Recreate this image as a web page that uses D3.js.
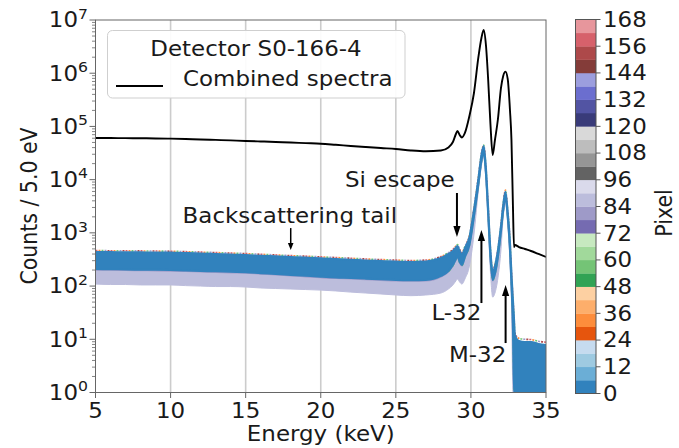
<!DOCTYPE html>
<html>
<head>
<meta charset="utf-8">
<script src="https://cdn.jsdelivr.net/npm/d3@7"></script>
<style>
  html, body { margin: 0; padding: 0; background: #fff; }
  svg { display: block; font-family: "DejaVu Sans", sans-serif; }
</style>
</head>
<body>
<svg id="chart" width="679" height="448"></svg>
<script>
// Energy grid (keV) shared by every series below
const energy = [5,6,7,8,9,10,11,12,13,14,15,16,17,18,19,20,21,22,23,24,25,26,27,28,
  28.5,28.8,29.0,29.1,29.25,29.4,29.6,29.9,30.2,30.5,30.7,30.85,31.0,31.15,31.3,31.45,
  31.6,31.8,32.0,32.15,32.3,32.45,32.6,32.7,32.8,32.87,32.93,33.2,33.6,34.0,34.5,35.0];

// Sum over all pixels (counts / 5 eV)
const combined = [60700,60500,60200,60000,59500,58900,57900,56900,55800,54600,53300,52200,51000,49900,48600,47400,45200,43000,41000,39200,37700,35300,34100,35300,
  40300,51000,72100,82200,69200,62000,75300,157000,420000,2020000,4590000,6500000,3390000,746000,111000,29100,
  55600,138000,525000,887000,1070000,780000,204000,55600,3060,542,591,542,497,456,401,352];

// Highest single-pixel spectrum (coloured fringe on top of the band)
const pixelMax = [465,462,460,458,455,452,444,435,427,417,408,396,385,374,365,354,344,334,323,315,308,302,308,358,
  425,485,565,605,488,428,555,890,2850,11300,30500,44500,17400,3080,505,196,
  254,505,1430,3550,6400,2650,750,190,58,27,13,10.4,10,9.9,9.2,8.8];

// Envelope of the dominant pixel group (pixels 0-5)
const groupHi = [437,435,433,430,428,426,418,409,401,392,384,372,362,352,343,332,323,314,303,296,290,284,290,337,
  401,456,531,567,456,401,520,836,2690,10700,29100,43000,16600,2930,476,184,
  238,476,1350,3340,5940,2470,700,176,55,25,12,9.3,8.9,8.9,8.2,7.8];
const groupLo = [209,207,205,203,202,200,196,192,189,185,182,175,169,162,156,150,145,142,138,134,130,129,130,155,
  192,249,323,367,284,249,352,592,1990,8280,22400,33100,12800,2170,337,130,
  169,352,1040,2580,4720,1990,476,105,15,0,0,0,0,0,0,0];

// Lowest single-pixel spectrum (pixels 84-89)
const pixelMin = [109,107,107,105,105,105,102,100,98,98,96,92,90,88,86,84,81,77,74,71,68,66,68,74,
  88,105,125,136,119,109,136,238,912,6390,18100,26700,9860,1600,184,62,
  74,142,476,1990,3640,1470,284,55,0,0,0,0,0,0,0,0];

// Axis ticks
const xTicks = [5,10,15,20,25,30,35];
const yDecades = [0,1,2,3,4,5,6,7];
const pixelTicks = [0,12,24,36,48,60,72,84,96,108,120,132,144,156,168];

// Pixel colour map: 28 bins of 6 pixels (tab20c followed by the last 8 of tab20b)
const pixelColors = ["#3182bd","#6baed6","#9ecae1","#c6dbef","#e6550d","#fd8d3c","#fdae6b","#fdd0a2",
  "#31a354","#74c476","#a1d99b","#c7e9c0","#756bb1","#9e9ac8","#bcbddc","#dadaeb",
  "#636363","#969696","#bdbdbd","#d9d9d9","#393b79","#5254a3","#6b6ecf","#9c9ede",
  "#843c39","#ad494a","#d6616b","#e7969c"];

// Annotations: arrow tail / tip in data coordinates, label anchor in data coordinates
const annotations = [
  {text: "Backscattering tail", tx: 10.8, ty: 1510, anchor: "start", e: 18.0, from: 1230, to: 476, head: "small"},
  {text: "Si escape", tx: 28.92, ty: 7280, anchor: "end", e: 29.07, from: 5610, to: 836, head: "big"},
  {text: "L-32", tx: 27.37, ty: 23, anchor: "start", e: 30.70, from: 48, to: 1130, head: "big"},
  {text: "M-32", tx: 28.54, ty: 3.8, anchor: "start", e: 32.31, from: 8.5, to: 105, head: "big"}
];

// ---- layout ----
const FS = 20.5;     // text size
const SX = 1.12;     // horizontal glyph stretch
const TXT = "#1a1a1a";
const svg = d3.select("#chart");

const x = d3.scaleLinear().domain([5, 35]).range([95.5, 546]);
const y = d3.scaleLog().domain([1, 1e7]).range([392.5, 20]).clamp(true);
const yv = v => y(Math.max(v, 1));

function label(parent, txt, px, py, opts = {}) {
  const g = parent.append("g")
    .attr("transform", `translate(${px},${py}) scale(${SX},1)` + (opts.rotate ? ` rotate(${opts.rotate})` : ""));
  const t = g.append("text")
    .attr("text-anchor", opts.anchor || "start")
    .attr("font-size", opts.size || FS)
    .attr("fill", TXT);
  if (opts.dy) t.attr("dy", opts.dy);
  t.text(txt);
  return t;
}

const plot = svg.append("g");
const clipId = "plotclip";
svg.append("defs").append("clipPath").attr("id", clipId)
  .append("rect").attr("x", 95.5).attr("y", 20).attr("width", 546 - 95.5).attr("height", 392.5 - 20);

// vertical grid
plot.selectAll("line.grid").data(xTicks.slice(1, -1)).enter().append("line")
  .attr("x1", d => x(d)).attr("x2", d => x(d))
  .attr("y1", 20).attr("y2", 392.5)
  .attr("stroke", "#cccccc").attr("stroke-width", 1.6);

const pts = energy.map((e, i) => i);
const data = plot.append("g").attr("clip-path", `url(#${clipId})`);
const curve = d3.curveMonotoneX;

// lowest pixels (lavender)
data.append("path")
  .attr("d", d3.area().curve(curve).x(i => x(energy[i])).y0(i => yv(pixelMin[i])).y1(i => yv(groupHi[i]))(pts))
  .attr("fill", "#bcbddc").attr("stroke", "#bcbddc").attr("stroke-width", 1);

// purple / green fringe along the lower edge of the main band
data.append("path")
  .attr("d", d3.line().curve(curve).x(i => x(energy[i])).y(i => yv(groupLo[i]) + 0.8)(pts))
  .attr("fill", "none").attr("stroke", "#9e9ac8").attr("stroke-width", 1.6);
data.append("path")
  .attr("d", d3.line().curve(curve).x(i => x(energy[i])).y(i => yv(groupLo[i]) + 0.8)(pts.filter(i => energy[i] >= 28.5)))
  .attr("fill", "none").attr("stroke", "#74c476").attr("stroke-width", 1.4)
  .attr("stroke-dasharray", "3,4");

// highest pixels: speckled multi-colour edge
const topLine = d3.line().curve(curve).x(i => x(energy[i])).y(i => yv(pixelMax[i]))(pts);
const fringe = [["#d6616b", 0], ["#fd8d3c", 3], ["#74c476", 6], ["#9e9ac8", 9], ["#ad494a", 12]];
fringe.forEach(([c, off]) => {
  data.append("path").attr("d", topLine)
    .attr("fill", "none").attr("stroke", c).attr("stroke-width", 1.6)
    .attr("stroke-dasharray", "2,13").attr("stroke-dashoffset", -off);
});

// dominant pixel group (blue)
data.append("path")
  .attr("d", d3.area().curve(curve).x(i => x(energy[i])).y0(i => yv(groupLo[i])).y1(i => yv(groupHi[i]))(pts))
  .attr("fill", pixelColors[0]).attr("stroke", pixelColors[0]).attr("stroke-width", 2).attr("stroke-linejoin", "round");

// combined spectrum
data.append("path")
  .attr("d", d3.line().curve(curve).x(i => x(energy[i])).y(i => yv(combined[i]))(pts))
  .attr("fill", "none").attr("stroke", "#000").attr("stroke-width", 1.9).attr("stroke-linejoin", "round");

// frame
plot.append("rect").attr("x", 95.5).attr("y", 20).attr("width", 546 - 95.5).attr("height", 392.5 - 20)
  .attr("fill", "none").attr("stroke", "#666").attr("stroke-width", 1);

// x ticks
xTicks.forEach(t => {
  plot.append("line").attr("x1", x(t)).attr("x2", x(t)).attr("y1", 392.5).attr("y2", 398)
    .attr("stroke", "#666").attr("stroke-width", 1);
  label(plot, String(t), x(t), 417.5, {anchor: "middle"});
});
label(plot, "Energy (keV)", x(20), 441, {anchor: "middle"});

// y ticks (log, with minors)
yDecades.forEach(d => {
  const yy = y(Math.pow(10, d));
  plot.append("line").attr("x1", 89.5).attr("x2", 95.5).attr("y1", yy).attr("y2", yy)
    .attr("stroke", "#666").attr("stroke-width", 1);
  const g = plot.append("g").attr("transform", `translate(88,${yy}) scale(${SX},1)`);
  const t = g.append("text").attr("text-anchor", "end").attr("font-size", FS).attr("fill", TXT).attr("dy", 7.3);
  t.append("tspan").text("10");
  t.append("tspan").attr("font-size", 14).attr("dy", -8.5).text(String(d));
  if (d < 7) {
    for (let m = 2; m <= 9; m++) {
      const ym = y(m * Math.pow(10, d));
      plot.append("line").attr("x1", 92).attr("x2", 95.5).attr("y1", ym).attr("y2", ym)
        .attr("stroke", "#666").attr("stroke-width", 0.8);
    }
  }
});
label(plot, "Counts / 5.0 eV", 37, 206, {anchor: "middle", rotate: -90});

// annotations
annotations.forEach(a => {
  label(plot, a.text, x(a.tx), y(a.ty), {anchor: a.anchor});
  const ax = x(a.e), y0 = y(a.from), y1 = y(a.to);
  const dir = Math.sign(y1 - y0);
  const hl = a.head === "big" ? 11 : 7, hw = a.head === "big" ? 3.6 : 2.8;
  plot.append("line").attr("x1", ax).attr("x2", ax).attr("y1", y0).attr("y2", y1 - dir * hl * 0.6)
    .attr("stroke", "#000").attr("stroke-width", a.head === "big" ? 2 : 1.5);
  plot.append("path")
    .attr("d", `M${ax},${y1} L${ax - hw},${y1 - dir * hl} L${ax + hw},${y1 - dir * hl} Z`)
    .attr("fill", "#000");
});

// legend
const lg = svg.append("g");
lg.append("rect").attr("x", 107.5).attr("y", 30.5).attr("width", 297.5).attr("height", 67.5)
  .attr("rx", 5).attr("fill", "#fff").attr("fill-opacity", 0.92).attr("stroke", "#cfcfcf").attr("stroke-width", 1);
label(lg, "Detector S0-166-4", 256, 55.5, {anchor: "middle"});
lg.append("line").attr("x1", 116).attr("x2", 163).attr("y1", 86).attr("y2", 86)
  .attr("stroke", "#000").attr("stroke-width", 1.9);
label(lg, "Combined spectra", 183, 85.5);

// colour bar
const cb = d3.scaleLinear().domain([0, 168]).range([393.5, 19.5]);
const cbg = svg.append("g");
pixelColors.forEach((c, i) => {
  cbg.append("rect").attr("x", 575.5).attr("width", 20.5)
    .attr("y", cb(6 * i + 6)).attr("height", cb(6 * i) - cb(6 * i + 6) + 0.3)
    .attr("fill", c);
});
cbg.append("rect").attr("x", 575.5).attr("y", 19.5).attr("width", 20.5).attr("height", 374)
  .attr("fill", "none").attr("stroke", "#555").attr("stroke-width", 1);
pixelTicks.forEach(t => {
  cbg.append("line").attr("x1", 596).attr("x2", 600.5).attr("y1", cb(t)).attr("y2", cb(t))
    .attr("stroke", "#555").attr("stroke-width", 1);
  label(cbg, String(t), 603, cb(t), {dy: 7.3});
});
label(cbg, "Pixel", 672, 213, {anchor: "middle", rotate: -90});
</script>
</body>
</html>
